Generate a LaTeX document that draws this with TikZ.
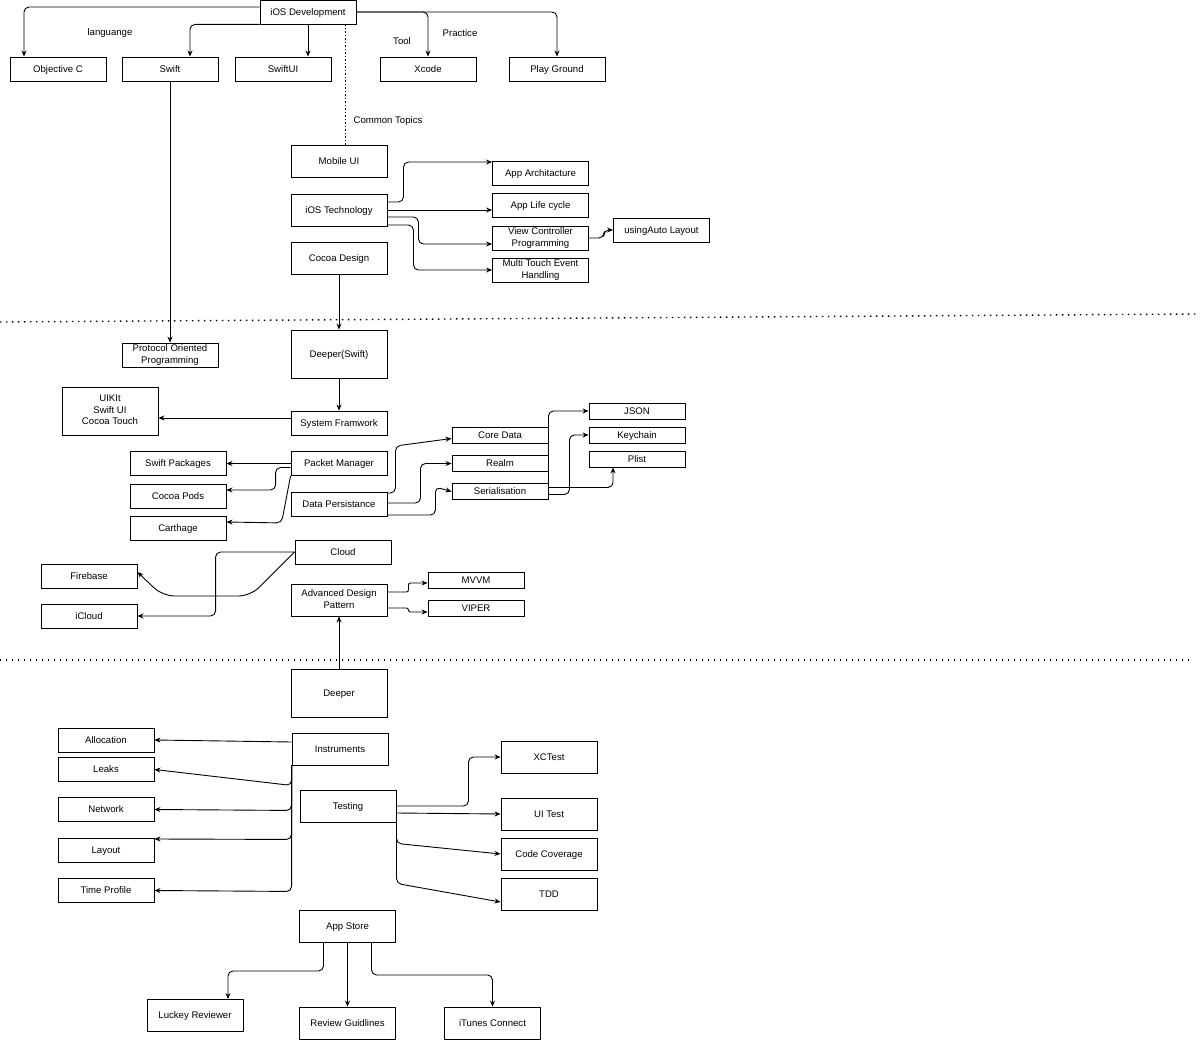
\documentclass[tikz,border=0pt]{standalone}
\usepackage{fontspec}
\setmainfont{Liberation Sans}
\usetikzlibrary{arrows.meta}
\newcommand{\boxstrut}{\rule[-2pt]{0pt}{10.2pt}}
\tikzset{
topic/.style={ % Sets the properties for each box
draw, fill=white, line width=0.9pt,
minimum width=96pt, minimum height=24pt,
inner sep=0pt, align=center,
execute at begin node=\boxstrut,
execute at end node=\boxstrut,
font=\fontsize{9.6}{11.6}\selectfont},
tall/.style={topic, minimum height=32pt},
big/.style={topic, minimum height=48pt},
slim/.style={topic, minimum height=16pt},
tag/.style={font=\fontsize{9.6}{11.6}\selectfont}, % Free labels
link/.style={ % Bent connectors
draw, line width=0.9pt, rounded corners=5pt,
-{Stealth[length=6pt,width=5pt]}},
every edge/.style={ % Straight connectors
draw, line width=0.9pt,
-{Stealth[length=6pt,width=5pt]}},
divider/.style={line width=1.4pt, dash pattern=on 1.4pt off 4.6pt},
topicline/.style={line width=0.9pt, dash pattern=on 1.5pt off 2pt}}

\begin{document}
\begin{tikzpicture}[x=1pt,y=-1pt]
\useasboundingbox (0,0) rectangle (1200,1040);
\node[topic] (iosdev) at (308,12) {iOS Development};
\node[topic] (objc) at (58,69) {Objective C};
\node[topic] (swift) at (170,69) {Swift};
\node[topic] (swiftui) at (283,69) {SwiftUI};
\node[topic] (xcode) at (428,69) {Xcode};
\node[topic] (playground) at (557,69) {Play Ground};
\node[tag] (lang) at (110,33) {languange};
\node[tag] (tool) at (402,41) {Tool};
\node[tag] (practice) at (460,33) {Practice};
\node[tag] (common) at (388,121) {Common Topics};
\node[tall] (mobileui) at (339,161) {Mobile UI};
\node[tall] (iostech) at (339,210) {iOS Technology};
\node[tall] (cocoadesign) at (339,258) {Cocoa Design};
\node[topic] (apparch) at (540.5,173.5) {App Architacture};
\node[topic] (lifecycle) at (540.5,205.5) {App Life cycle};
\node[topic] (vcprog) at (540.5,238) {View Controller\\Programming};
\node[topic] (multitouch) at (540.5,270) {Multi Touch Event\\Handling};
\node[topic] (autolayout) at (661.5,230) {usingAuto Layout};
\node[big] (deeperswift) at (339,354) {Deeper(Swift)};
\node[topic] (pop) at (170,355) {Protocol Oriented\\Programming};
\node[topic] (sysframe) at (339,423) {System Framwork};
\node[big] (uikit) at (110,411) {UIKIt\\Swift UI\\Cocoa Touch};
\node[topic] (packetmgr) at (339,463.5) {Packet Manager};
\node[topic] (datapers) at (339,504) {Data Persistance};
\node[topic] (swiftpkg) at (178,463.5) {Swift Packages};
\node[topic] (cocoapods) at (178,496) {Cocoa Pods};
\node[topic] (carthage) at (178,528) {Carthage};
\node[slim] (coredata) at (500,435.5) {Core Data};
\node[slim] (realm) at (500,463.5) {Realm};
\node[slim] (serial) at (500,491.5) {Serialisation};
\node[slim] (json) at (637,411) {JSON};
\node[slim] (keychain) at (637,435) {Keychain};
\node[slim] (plist) at (637,459) {Plist};
\node[topic] (cloud) at (343,552) {Cloud};
\node[topic] (firebase) at (89,576) {Firebase};
\node[topic] (icloud) at (89,616) {iCloud};
\node[tall] (adp) at (339,600) {Advanced Design\\Pattern};
\node[slim] (mvvm) at (476,580) {MVVM};
\node[slim] (viper) at (476,608) {VIPER};
\node[big] (deeper) at (339,693) {Deeper};
\node[tall] (instruments) at (340,749) {Instruments};
\node[topic] (allocation) at (106,740) {Allocation};
\node[topic] (leaks) at (106,769.5) {Leaks};
\node[topic] (network) at (106,809.5) {Network};
\node[topic] (layout) at (106,850) {Layout};
\node[topic] (timeprofile) at (106,890.5) {Time Profile};
\node[tall] (testing) at (348,806) {Testing};
\node[tall] (xctest) at (549,757) {XCTest};
\node[tall] (uitest) at (549,814) {UI Test};
\node[tall] (coverage) at (549,854) {Code Coverage};
\node[tall] (tdd) at (549,894) {TDD};
\node[tall] (appstore) at (347.5,926.5) {App Store};
\node[tall] (luckey) at (195,1015.5) {Luckey Reviewer};
\node[tall] (guidelines) at (347.5,1023) {Review Guidlines};
\node[tall] (itunes) at (492.5,1023) {iTunes Connect};
\draw[divider] (0,322) -- (1197,314);
\draw[divider] (0,660) -- (1190,660);
\draw[link] ([yshift=5pt]iosdev.west) -| ([xshift=-34pt]objc.north);
\draw[link] (iosdev.south west) -| ([xshift=20pt]swift.north);
\draw[link] (iosdev.south) -- (iosdev.south |- swiftui.north);
\draw[link] (iosdev.east) -| (xcode.north);
\draw[link] (iosdev.east) -| (playground.north);
\draw[topicline] ([xshift=37pt]iosdev.south) -- ([xshift=6pt]mobileui.north);
\draw (swift) edge (pop);
\draw[link] ([yshift=8pt]iostech.east) -- ++(16,0) |- ([yshift=-1pt]apparch.north west);
\draw[link] (iostech.east) -- (iostech.east -| lifecycle.west);
\draw[link] ([yshift=-7pt]iostech.east) -- ++(31,0) |- ([yshift=-6pt]vcprog.west);
\draw[link] ([yshift=-15pt]iostech.east) -- ++(26,0) |- (multitouch.west);
\draw[link] (vcprog.east) -- ++(15,0) |- (autolayout.west);
\draw (cocoadesign) edge (deeperswift);
\draw (deeperswift) edge (sysframe);
\draw[link] ([yshift=5pt]sysframe.west) -- ([yshift=-7pt]uikit.east);
\draw (packetmgr) edge (swiftpkg);
\draw[link] ([yshift=-4pt]packetmgr.west) -- ++(-15,0) |- ([yshift=6pt]cocoapods.east);
\draw[link] (packetmgr.south west) -- ++(-9,47) -- ([yshift=6pt]carthage.east);
\draw[link] ([yshift=11pt]datapers.east) -- ++(8,0) -- ++(0,-47) -- ([yshift=-3pt]coredata.west);
\draw[link] ([yshift=1pt]datapers.east) -- ++(33,0) |- (realm.west);
\draw[link] ([yshift=-11pt]datapers.east) -- ++(48,0) -- ++(0,-28) -- (serial.west);
\draw[link] ([yshift=4pt]serial.east) |- (json.west);
\draw[link] ([yshift=4pt]serial.east) -| ([xshift=-24pt]plist.south);
\draw[link] ([yshift=-3pt]serial.east) -- ++(21,0) |- (keychain.west);
\draw[link, rounded corners=12pt] (cloud.west) -- ++(-44,44) -- ++(-88,0) -- ([yshift=4pt]firebase.east);
\draw[link] (cloud.west) -- ++(-79,0) |- (icloud.east);
\draw[link, rounded corners=2pt] ([yshift=8pt]adp.east) -- ++(21,0) |- ([yshift=-3pt]mvvm.west);
\draw[link, rounded corners=2pt] ([yshift=-8pt]adp.east) -- ++(21,0) |- ([yshift=-4pt]viper.west);
\draw (deeper) edge (adp);
\draw[link] ([yshift=7pt]instruments.west) -- (allocation.east);
\draw[link] (instruments.south west) -- ++(0,20) -- (leaks.east);
\draw[link] (instruments.south west) -- ++(0,45) -- (network.east);
\draw[link] (instruments.south west) -- ++(0,74) -- ([yshift=11pt]layout.east);
\draw[link] (instruments.south west) -- ++(0,126) -- (timeprofile.east);
\draw[link] (testing.east) -- ++(72,0) |- (xctest.west);
\draw[link] ([yshift=-7pt]testing.east) -- (uitest.west);
\draw[link] (testing.south east) -- ++(0,21) -- (coverage.west);
\draw[link] (testing.south east) -- ++(0,61) -- ([yshift=-8pt]tdd.west);
\draw[link] ([xshift=-24pt]appstore.south) -- ++(0,28) -| ([xshift=33pt]luckey.north);
\draw (appstore) edge (guidelines);
\draw[link] ([xshift=24pt]appstore.south) -- ++(0,32) -| (itunes.north);
\end{tikzpicture}
\end{document}
